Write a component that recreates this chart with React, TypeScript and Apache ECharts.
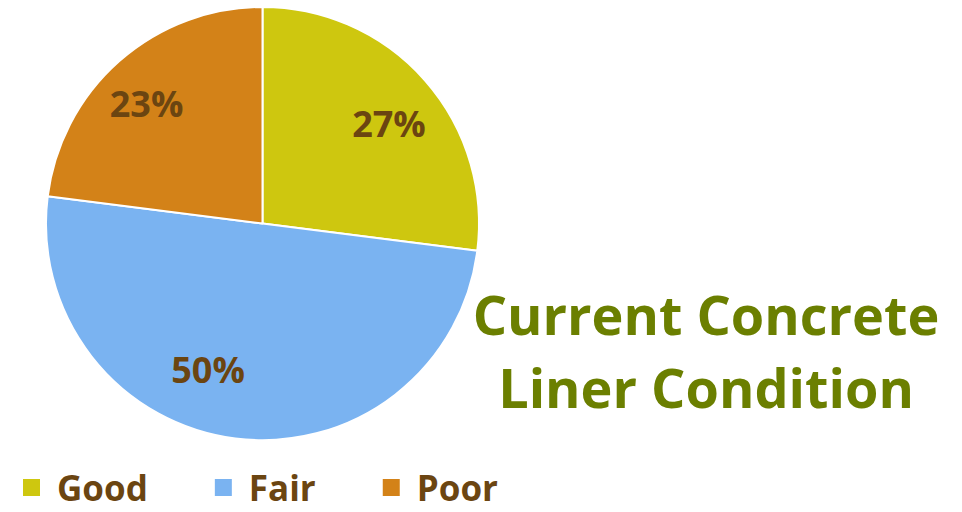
import React, { useEffect, useRef } from "react";
import * as echarts from "echarts";

const categories = ["Good", "Fair", "Poor"];
const values = [27, 50, 23];
const colors = ["#CEC70F", "#7AB3F1", "#D38218"];
const titleLines = ["Current Concrete", "Liner Condition"];

export default function App() {
  const ref = useRef<HTMLDivElement>(null);
  useEffect(() => {
    document.body.style.margin = "0";
    const chart = echarts.init(ref.current!, null, { renderer: "svg" });
    const data = categories.map((name, i) => ({
      name,
      value: values[i],
      itemStyle: { color: colors[i] },
    }));
    const labelOffsets: Record<string, number[]> = { Good: [4, 8], Fair: [-34, -16], Poor: [-8, 2] };
    chart.setOption({
      animation: false,
      backgroundColor: "#ffffff",
      title: {
        text: titleLines.join("\n"),
        left: 701,
        top: 272,
        textAlign: "center",
        textStyle: {
          fontFamily: "Open Sans",
          fontWeight: "bold",
          fontSize: 54,
          lineHeight: 73,
          color: "#6B7F00",
        },
      },
      legend: {
        data: categories,
        left: 21,
        top: 470,
        icon: "rect",
        itemWidth: 19,
        itemHeight: 19,
        itemGap: 65,
        padding: 0,
        selectedMode: false,
        textStyle: {
          fontFamily: "Open Sans",
          fontWeight: "bold",
          fontSize: 35,
          lineHeight: 30,
          color: "#6B4511",
          padding: [0, 0, 0, 11],
        },
      },
      series: [
        {
          type: "pie",
          center: [262.5, 223.5],
          radius: [0, 216.5],
          startAngle: 90,
          clockwise: true,
          silent: true,
          label: { show: false },
          labelLine: { show: false },
          itemStyle: { borderColor: "#ffffff", borderWidth: 2 },
          data,
        },
        {
          type: "pie",
          center: [262.5, 223.5],
          radius: [104, 216.5],
          startAngle: 90,
          clockwise: true,
          silent: true,
          itemStyle: { color: "transparent", borderWidth: 0 },
          labelLine: { show: false },
          data: data.map((d) => ({
            name: d.name,
            value: d.value,
            itemStyle: { color: "transparent" },
            label: { offset: labelOffsets[d.name] },
          })),
          label: {
            show: true,
            position: "inside",
            formatter: (p: any) => `${p.value}%`,
            fontFamily: "Open Sans",
            fontWeight: "bold",
            fontSize: 36,
            color: "#6B4511",
          },
        },
      ],
    });
    return () => chart.dispose();
  }, []);
  return <div ref={ref} style={{ width: 962, height: 512 }} />;
}
